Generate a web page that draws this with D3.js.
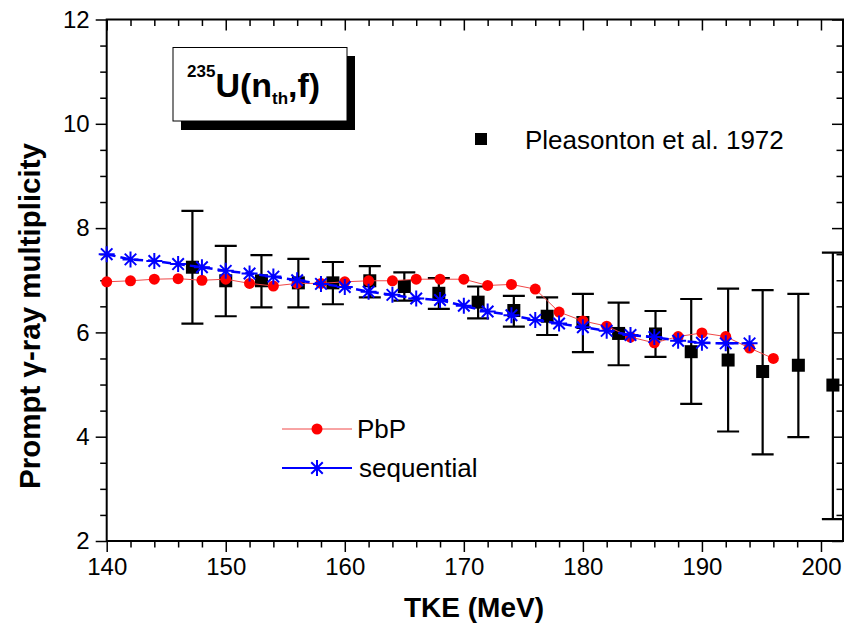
<!DOCTYPE html>
<html>
<head>
<meta charset="utf-8">
<script src="https://cdn.jsdelivr.net/npm/d3@7"></script>
<style>
  body { margin: 0; background: #fff; }
  svg { font-family: "Liberation Sans", Arial, sans-serif; }
  .axis path { display: none; }
  .axis line { stroke: #000; stroke-width: 1.5; }
  .axis text { font-size: 24px; fill: #000; }
</style>
</head>
<body>
<script>
// PbP calculation
var pbpTKE  = [140,142,144,146,148,150,152,154,156,158,160,162,164,166,168,170,172,174,176,178,180,182,184,186,188,190,192,194,196];
var pbpMult = [6.97,6.99,7.02,7.03,7.00,7.02,6.94,6.89,6.94,6.94,6.97,6.99,6.99,7.02,7.02,7.02,6.90,6.92,6.83,6.39,6.22,6.12,5.91,5.80,5.92,5.99,5.92,5.70,5.50];

// sequential emission
var seqTKE  = [140,142,144,146,148,150,152,154,156,158,160,162,164,166,168,170,172,174,176,178,180,182,184,186,188,190,192,194];
var seqMult = [7.50,7.40,7.37,7.31,7.25,7.18,7.13,7.07,7.00,6.93,6.87,6.78,6.72,6.65,6.62,6.51,6.40,6.33,6.24,6.17,6.10,6.03,5.95,5.91,5.84,5.80,5.79,5.79];

// Pleasonton et al. 1972
var expTKE  = [147.2,150,153,156.1,159,162.1,165,167.9,171.2,174.2,177,180,183,186.1,189.1,192.2,195.1,198.1,201];
var expMult = [7.25,6.99,6.99,6.95,6.95,6.99,6.88,6.75,6.58,6.42,6.31,6.19,5.98,5.97,5.63,5.47,5.25,5.37,4.99];
var expLo   = [6.17,6.31,6.48,6.48,6.54,6.67,6.61,6.45,6.27,6.11,5.95,5.62,5.37,5.53,4.63,4.10,3.66,3.99,2.42];
var expHi   = [8.33,7.66,7.48,7.41,7.35,7.27,7.15,7.04,6.88,6.70,6.67,6.74,6.57,6.41,6.64,6.84,6.81,6.74,7.53];

var xTicks = [140,150,160,170,180,190,200];
var yTicks = [2,4,6,8,10,12];

var W = 846, H = 632;
var plotL = 106.7, plotR = 843, plotT = 19.5, plotB = 541;

var svg = d3.select("body").append("svg")
    .attr("width", W)
    .attr("height", H);

var x = d3.scaleLinear().domain([140, 201.85]).range([plotL, plotR]);
var y = d3.scaleLinear().domain([2, 12]).range([plotB, plotT]);

var xMinor = d3.range(140, 202, 2).filter(function(v) { return v % 10 !== 0; });
var yMinor = d3.range(2, 12, 0.5).filter(function(v) { return v % 2 !== 0; });

/*Axes: minor ticks first, then majors with labels*/
function addAxis(axis, tx, ty) {
    svg.append("g")
        .attr("class", "axis")
        .attr("transform", "translate(" + tx + "," + ty + ")")
        .call(axis);
}
// bottom (outward)
addAxis(d3.axisBottom(x).tickValues(xMinor).tickSize(6.5).tickFormat(""), 0, plotB);
addAxis(d3.axisBottom(x).tickValues(xTicks).tickSize(11).tickPadding(6).tickFormat(d3.format("d")), 0, plotB);
// top (inward)
addAxis(d3.axisBottom(x).tickValues(xMinor).tickSize(6.5).tickFormat(""), 0, plotT);
addAxis(d3.axisBottom(x).tickValues(xTicks).tickSize(11).tickFormat(""), 0, plotT);
// left (outward)
addAxis(d3.axisLeft(y).tickValues(yMinor).tickSize(6.5).tickFormat(""), plotL, 0);
addAxis(d3.axisLeft(y).tickValues(yTicks).tickSize(11).tickPadding(6).tickFormat(d3.format("d")), plotL, 0);
// right (inward)
addAxis(d3.axisLeft(y).tickValues(yMinor).tickSize(6.5).tickFormat(""), plotR, 0);
addAxis(d3.axisLeft(y).tickValues(yTicks).tickSize(11).tickFormat(""), plotR, 0);

svg.selectAll(".axis text").attr("font-size", 24);

svg.append("rect")
    .attr("x", plotL)
    .attr("y", plotT)
    .attr("width", plotR - plotL)
    .attr("height", plotB - plotT)
    .attr("fill", "none")
    .attr("stroke", "#000")
    .attr("stroke-width", 2);

/*Axis titles*/
svg.append("text")
    .attr("x", 474)
    .attr("y", 617)
    .attr("text-anchor", "middle")
    .attr("font-size", 28)
    .attr("font-weight", "bold")
    .text("TKE (MeV)");

svg.append("text")
    .attr("transform", "translate(40,316) rotate(-90)")
    .attr("text-anchor", "middle")
    .attr("font-size", 29.5)
    .attr("font-weight", "bold")
    .text("Prompt \u03b3-ray multiplicity");

/*Title box with shadow*/
svg.append("rect")
    .attr("x", 181).attr("y", 56)
    .attr("width", 174).attr("height", 74)
    .attr("fill", "#000");
svg.append("rect")
    .attr("x", 173).attr("y", 47.5)
    .attr("width", 174).attr("height", 73.5)
    .attr("fill", "#fff")
    .attr("stroke", "#000")
    .attr("stroke-width", 1);
var title = svg.append("text")
    .attr("x", 187)
    .attr("y", 96.5)
    .attr("font-weight", "bold")
    .attr("font-size", 34);
title.append("tspan").attr("font-size", 17).attr("dy", -20).text("235");
title.append("tspan").attr("dy", 20).text("U(n");
title.append("tspan").attr("font-size", 17).attr("dy", 7.5).text("th");
title.append("tspan").attr("dy", -7.5).text(",f)");

/*Experimental data: error bars + squares*/
var exp = expTKE.map(function(t, i) {
    return {tke: t, m: expMult[i], lo: expLo[i], hi: expHi[i]};
});
var gExp = svg.append("g");
gExp.selectAll(".ebar")
    .data(exp)
    .enter()
    .append("path")
    .attr("d", function(d) {
        var cx = x(d.tke), c = 11;
        return "M" + cx + "," + y(d.lo) + "V" + y(d.hi) +
               "M" + (cx - c) + "," + y(d.hi) + "H" + (cx + c) +
               "M" + (cx - c) + "," + y(d.lo) + "H" + (cx + c);
    })
    .attr("stroke", "#000")
    .attr("stroke-width", 2.2)
    .attr("fill", "none");
gExp.selectAll("rect")
    .data(exp)
    .enter()
    .append("rect")
    .attr("x", function(d) { return x(d.tke) - 6.5; })
    .attr("y", function(d) { return y(d.m) - 6.5; })
    .attr("width", 13)
    .attr("height", 13)
    .attr("fill", "#000");

/*PbP*/
var pbp = pbpTKE.map(function(t, i) { return [t, pbpMult[i]]; });
var line = d3.line()
    .x(function(d) { return x(d[0]); })
    .y(function(d) { return y(d[1]); });
svg.append("path")
    .attr("d", line(pbp))
    .attr("fill", "none")
    .attr("stroke", "#f04848")
    .attr("stroke-width", 1);
svg.append("g").selectAll("circle")
    .data(pbp)
    .enter()
    .append("circle")
    .attr("cx", function(d) { return x(d[0]); })
    .attr("cy", function(d) { return y(d[1]); })
    .attr("r", 5.5)
    .attr("fill", "#ff0000");

/*sequential*/
// 8-armed star like Origin's "*" symbol
var starType = {
    draw: function(ctx, size) {
        var r = Math.sqrt(size) / 2, d = r * 0.72;
        ctx.moveTo(0, -r); ctx.lineTo(0, r);
        ctx.moveTo(-r, 0); ctx.lineTo(r, 0);
        ctx.moveTo(-d, -d); ctx.lineTo(d, d);
        ctx.moveTo(-d, d); ctx.lineTo(d, -d);
    }
};
var seq = seqTKE.map(function(t, i) { return [t, seqMult[i]]; });
svg.append("path")
    .attr("d", line(seq))
    .attr("fill", "none")
    .attr("stroke", "#0000ff")
    .attr("stroke-width", 2.5)
    .attr("stroke-dasharray", "9,5");
var star = d3.symbol().type(starType).size(256);
svg.append("g").selectAll("path")
    .data(seq)
    .enter()
    .append("path")
    .attr("transform", function(d) { return "translate(" + x(d[0]) + "," + y(d[1]) + ")"; })
    .attr("d", star)
    .attr("fill", "none")
    .attr("stroke", "#0000ff")
    .attr("stroke-width", 2);

/*Legends*/
svg.append("rect")
    .attr("x", 475).attr("y", 133)
    .attr("width", 12).attr("height", 12)
    .attr("fill", "#000");
svg.append("text")
    .attr("x", 525).attr("y", 148.5)
    .attr("font-size", 26)
    .text("Pleasonton et al. 1972");

svg.append("line")
    .attr("x1", 282).attr("x2", 352)
    .attr("y1", 429).attr("y2", 429)
    .attr("stroke", "#f04848").attr("stroke-width", 1);
svg.append("circle")
    .attr("cx", 317).attr("cy", 429).attr("r", 5.5)
    .attr("fill", "#ff0000");
svg.append("text")
    .attr("x", 357).attr("y", 438)
    .attr("font-size", 26)
    .text("PbP");

svg.append("line")
    .attr("x1", 282).attr("x2", 352)
    .attr("y1", 468).attr("y2", 468)
    .attr("stroke", "#0000ff").attr("stroke-width", 2);
svg.append("path")
    .attr("transform", "translate(317,468)")
    .attr("d", star)
    .attr("fill", "none")
    .attr("stroke", "#0000ff")
    .attr("stroke-width", 2);
svg.append("text")
    .attr("x", 359).attr("y", 477)
    .attr("font-size", 26)
    .text("sequential");
</script>
</body>
</html>
